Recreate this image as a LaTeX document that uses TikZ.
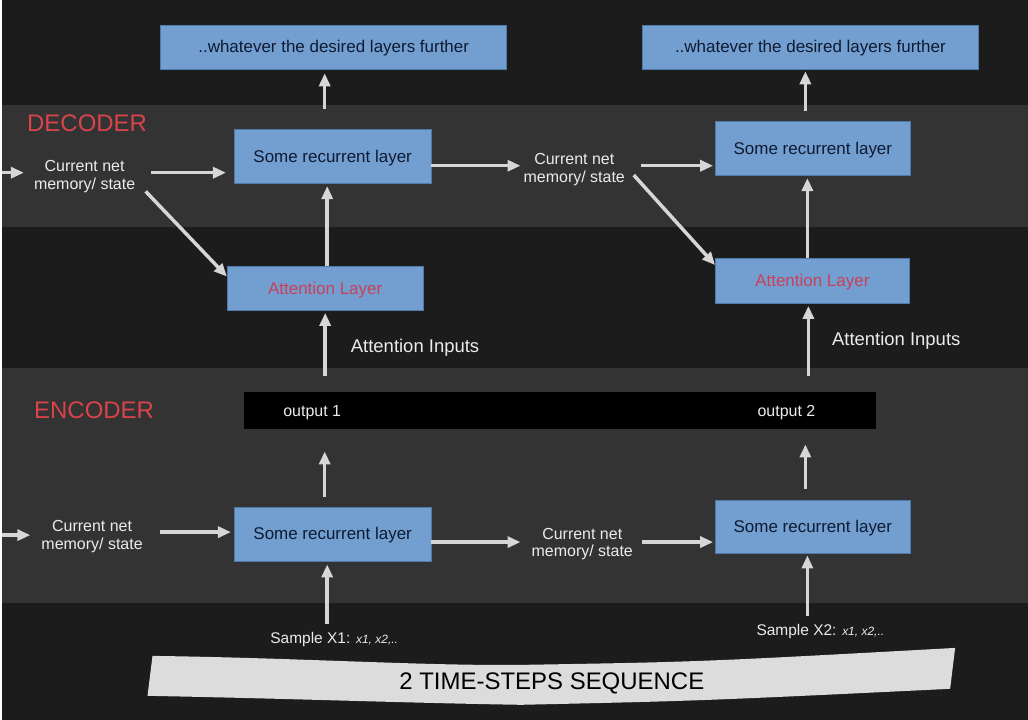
\documentclass[tikz,border=0pt]{standalone}
\usepackage{fontspec}
\setmainfont{Liberation Sans}
\usetikzlibrary{arrows.meta}
\definecolor{bg}{HTML}{1C1C1C}
\definecolor{band}{HTML}{333333}
\definecolor{arrgray}{HTML}{D6D6D6}
\definecolor{boxblue}{HTML}{729FCF}
\definecolor{boxline}{HTML}{4F79A8}
\definecolor{boxtxt}{HTML}{0F1A33}
\definecolor{attred}{HTML}{C9405A}
\definecolor{lblred}{HTML}{D9434A}
\definecolor{paper}{HTML}{DCDCDC}
\begin{document}
\begin{tikzpicture}[x=1pt,y=-1pt,
box/.style={draw=boxline,fill=boxblue,line width=0.8pt,inner sep=0pt,text height=12pt,text depth=1pt,text=boxtxt,font=\fontsize{17}{20}\selectfont},
arr/.style={draw=arrgray,line width=3.5pt,-{Triangle[length=13pt,width=11pt]}},
memtxt/.style={text=white!92!black,align=center,inner sep=2pt,font=\fontsize{16}{18}\selectfont},
wtxt/.style={text=white!92!black,inner sep=0pt,font=\fontsize{16}{18}\selectfont},
redlbl/.style={text=lblred,inner sep=0pt,font=\fontsize{24}{26}\selectfont}]
\fill[bg] (0,0) rectangle (1028,721);
\fill[band] (0,105) rectangle (1028,227);
\fill[band] (0,369) rectangle (1028,604);
\node[redlbl] (dec) at (85.5,123) {DECODER};
\node[redlbl] (enc) at (92.5,411) {ENCODER};
\node[box,minimum width=347,minimum height=45] (outL) at (332.5,47.5) {..whatever the desired layers further};
\node[box,minimum width=336,minimum height=45] (outR) at (810,47.5) {..whatever the desired layers further};
\node[box,minimum width=197,minimum height=54] (recDL) at (331.5,157) {Some recurrent layer};
\node[box,minimum width=195,minimum height=54] (recDR) at (812.5,149) {Some recurrent layer};
\node[box,minimum width=196,minimum height=44,text=attred] (attL) at (324,289) {Attention Layer};
\node[box,minimum width=194,minimum height=45,text=attred] (attR) at (812,281.5) {Attention Layer};
\node[box,minimum width=197,minimum height=54] (recEL) at (331.5,535) {Some recurrent layer};
\node[box,minimum width=195,minimum height=53] (recER) at (812.5,527.5) {Some recurrent layer};
\node[fill=black,minimum width=633,minimum height=37,inner sep=0pt] (bar) at (559.5,411.5) {};
\node[wtxt] (o1) at (311,413.5) {output 1};
\node[wtxt] (o2) at (786,413.5) {output 2};
\node[memtxt] (memD1) at (83,177) {Current net\\memory/ state};
\node[memtxt] (memD2) at (573.5,170) {Current net\\memory/ state};
\node[memtxt] (memE1) at (90.5,537) {Current net\\memory/ state};
\node[memtxt] (memE2) at (581.5,545) {Current net\\memory/ state};
\node[wtxt,font=\fontsize{18.5}{20}\selectfont] (ainL) at (414,348) {Attention Inputs};
\node[wtxt,font=\fontsize{18.5}{20}\selectfont] (ainR) at (896,341) {Attention Inputs};
\node[wtxt,font=\fontsize{15.5}{18}\selectfont] (smpL) at (333,641) {Sample X1: {\fontsize{12}{14}\selectfont\itshape x1, x2,..}};
\node[wtxt,font=\fontsize{15.5}{18}\selectfont] (smpR) at (820,633) {Sample X2: {\fontsize{12}{14}\selectfont\itshape x1, x2,..}};
\coordinate (inD) at (0,173);
\coordinate (inE) at (0,536);
\draw[arr,shorten >=8pt] (inD) -- (inD -| memD1.west);
\draw[arr,shorten <=14pt,shorten >=8pt] (memD1.east |- inD) -- (recDL.west |- inD);
\draw[arr,shorten <=12pt] ([yshift=-6pt]memD1.east) -- ([yshift=12pt]attL.west);
\draw[arr,shorten >=2pt] ([xshift=2pt]attL.north) -- ([xshift=2pt]attL.north |- recDL.south);
\draw[arr,shorten <=20pt,shorten >=3pt] ([xshift=-8pt]recDL.north) -- ([xshift=-8pt]recDL.north |- outL.south);
\draw[arr,shorten >=1pt] ([yshift=-9pt]recDL.east) -- ([yshift=-9pt]recDL.east -| memD2.west);
\draw[arr,shorten <=14pt,shorten >=2pt] ([yshift=4pt]memD2.east) -- ([yshift=4pt]memD2.east -| recDR.west);
\draw[arr,shorten <=10pt] ([yshift=2pt]memD2.east) -- ([yshift=16pt]attR.west);
\draw[arr,shorten >=2pt] ([xshift=-5pt]attR.north) -- ([xshift=-5pt]attR.north |- recDR.south);
\draw[arr,shorten <=10pt,shorten >=1pt] ([xshift=-7.5pt]recDR.north) -- ([xshift=-7.5pt]recDR.north |- outR.south);
\draw[arr,shorten <=16pt,shorten >=2pt] (attL |- bar.north) -- (attL.south);
\draw[arr,shorten <=16pt,shorten >=2pt] ([xshift=-4pt]attR.south |- bar.north) -- ([xshift=-4pt]attR.south);
\draw[arr,shorten >=9pt] (inE) -- (inE -| memE1.west);
\draw[arr,shorten <=15pt,shorten >=3pt] ([yshift=4pt]memE1.east) -- ([yshift=4pt]memE1.east -| recEL.west);
\draw[arr,shorten >=9pt] ([yshift=-8pt]recEL.east) -- ([yshift=-8pt]recEL.east -| memE2.west);
\draw[arr,shorten <=7pt,shorten >=2pt] ([yshift=2pt]memE2.east) -- ([yshift=2pt]memE2.east -| recER.west);
\draw[arr,shorten <=10pt,shorten >=22pt] ([xshift=-8pt]recEL.north) -- ([xshift=-8pt]recEL.north |- bar.south);
\draw[arr,shorten <=11pt,shorten >=15pt] ([xshift=-7.5pt]recER.north) -- ([xshift=-7.5pt]recER.north |- bar.south);
\draw[arr,shorten <=9pt,shorten >=3pt] ([xshift=-5.5pt]recEL.south |- smpL.north) -- ([xshift=-5.5pt]recEL.south);
\draw[arr,shorten <=9pt,shorten >=2pt] ([xshift=-5.5pt]recER.south |- smpR.north) -- ([xshift=-5.5pt]recER.south);
\fill[paper] (151,657) .. controls (300,659) and (420,667) .. (520,666) .. controls (700,663) .. (955,649) -- (950,690) .. controls (700,702) .. (520,706) .. controls (400,704) and (300,700) .. (146,697) -- cycle;
\node[text=black,inner sep=0pt,font=\fontsize{24}{26}\selectfont] (seq) at (551,685) {2 TIME-STEPS SEQUENCE};
\end{tikzpicture}
\end{document}
